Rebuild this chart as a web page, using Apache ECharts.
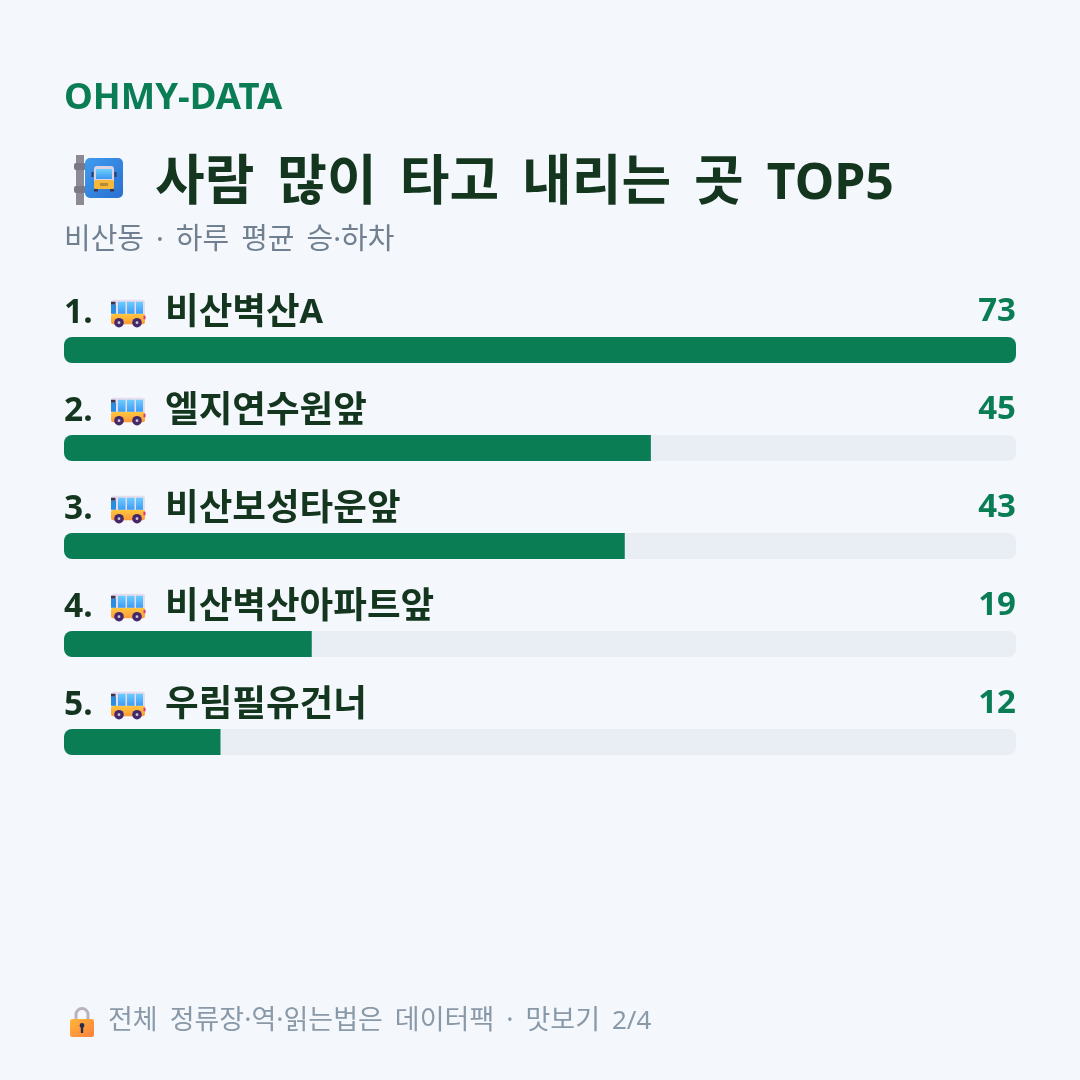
<!DOCTYPE html>
<html lang="ko">
<head>
<meta charset="utf-8">
<style>html,body{margin:0;background:#f4f7fc}#chart{width:1080px;height:1080px}</style>
<script src="https://cdn.jsdelivr.net/npm/echarts@6/dist/echarts.min.js"></script>
</head>
<body>
<div id="chart"></div>
<script>
const stops = ['비산벽산A', '엘지연수원앞', '비산보성타운앞', '비산벽산아파트앞', '우림필유건너'];
const riders = [73, 45, 43, 19, 12];

const brandText = 'OHMY-DATA';
const titleText = '사람 많이 타고 내리는 곳 TOP5';
const subtitleText = '비산동 · 하루 평균 승·하차';
const footerText = '전체 정류장·역·읽는법은 데이터팩 · 맛보기 2/4';

const FONT = '"Noto Sans", "Noto Sans CJK KR", sans-serif';
const INK = '#14361f';
const GREEN = '#0b7d55';

const svgUri = s => 'data:image/svg+xml;utf8,' + encodeURIComponent(
  '<svg xmlns="http://www.w3.org/2000/svg" ' + s + '</svg>');

// Small side-on bus
const busIcon = svgUri(`viewBox="0 0 36 30" width="36" height="30">
  <defs><linearGradient id="b" x1="0" y1="0" x2="0" y2="1"><stop offset="0" stop-color="#ffc83d"/><stop offset="1" stop-color="#ff9a3c"/></linearGradient>
  <linearGradient id="w" x1="0" y1="0" x2="0" y2="1"><stop offset="0" stop-color="#6ccdff"/><stop offset="1" stop-color="#3d9cf5"/></linearGradient></defs>
  <rect x="1" y="1" width="34" height="17" rx="2.5" fill="#e6dcee"/>
  <rect x="1" y="15" width="34" height="10.5" rx="2.5" fill="url(#b)"/>
  <rect x="1" y="3" width="4.5" height="3" fill="#3a3550"/>
  <rect x="1" y="6" width="5" height="9" fill="#2a8ee0"/>
  <rect x="8" y="3" width="7.5" height="12" fill="url(#w)"/>
  <rect x="17" y="3" width="7.5" height="12" fill="url(#w)"/>
  <rect x="26" y="3" width="7" height="12" fill="url(#w)"/>
  <rect x="33.5" y="17" width="2" height="3.5" fill="#e0357a"/>
  <circle cx="9" cy="24" r="4.8" fill="#43286a"/><circle cx="9" cy="24" r="1.4" fill="#cfc4dc"/>
  <circle cx="27" cy="24" r="4.8" fill="#43286a"/><circle cx="27" cy="24" r="1.4" fill="#cfc4dc"/>`);

// Bus-stop sign on a post
const stopIcon = svgUri(`viewBox="0 0 52 52" width="52" height="52">
  <defs><linearGradient id="s" x1="0" y1="0" x2="1" y2="1"><stop offset="0" stop-color="#3f9cee"/><stop offset="1" stop-color="#2a6fd0"/></linearGradient>
  <linearGradient id="g" x1="0" y1="0" x2="0" y2="1"><stop offset="0" stop-color="#6fd0ff"/><stop offset="1" stop-color="#3b96ee"/></linearGradient></defs>
  <rect x="2" y="0" width="8" height="50" fill="#8d8a96"/>
  <rect x="0" y="8" width="12" height="7" rx="2" fill="#7b7885"/>
  <rect x="0" y="31" width="12" height="7" rx="2" fill="#7b7885"/>
  <rect x="11" y="3" width="38" height="40" rx="5" fill="url(#s)"/>
  <rect x="20" y="11" width="20" height="23" rx="3" fill="#d9d2e6"/>
  <rect x="22" y="14" width="16" height="10" fill="url(#g)"/>
  <rect x="20" y="25" width="20" height="9" rx="2" fill="#f5b93a"/>
  <rect x="26" y="28" width="8" height="3" fill="#b58a3a"/>
  <rect x="20" y="34" width="4" height="2.5" fill="#3a3650"/><rect x="36" y="34" width="4" height="2.5" fill="#3a3650"/>
  <rect x="17.5" y="17" width="2" height="5" fill="#3a3650"/><rect x="40.5" y="17" width="2" height="5" fill="#3a3650"/>`);

// Padlock for the footer note
const lockIcon = svgUri(`viewBox="0 0 26 32" width="26" height="32">
  <defs><linearGradient id="l" x1="0" y1="0" x2="1" y2="1"><stop offset="0" stop-color="#ffb638"/><stop offset="1" stop-color="#fa8040"/></linearGradient></defs>
  <path d="M7 14V8.5a6 6 0 0 1 12 0V14" fill="none" stroke="#b9b2bf" stroke-width="3"/>
  <rect x="1" y="13" width="24" height="18" rx="2.5" fill="url(#l)"/>
  <circle cx="13" cy="19.5" r="2.4" fill="#2c2a4a"/><rect x="11.8" y="20" width="2.4" height="7" fill="#2c2a4a"/>`);

const chart = echarts.init(document.getElementById('chart'));

// Headline text with latin runs and word gaps tagged, so each gets its own rich style
const tagged = text => text
  .replace(/[A-Z0-9][A-Z0-9/-]*/g, m => `{lat|${m}}`)
  .replace(/ /g, '{gap| }');

const headline = (text, top, left, size, weight, color, gapWidth, latinSize) => ({
  text: tagged(text), left, top, padding: 0,
  textStyle: {
    fontFamily: FONT, fontSize: size, fontWeight: weight, color,
    rich: {
      lat: { fontFamily: FONT, fontSize: latinSize, fontWeight: weight, color },
      gap: { width: gapWidth, fontSize: size }
    }
  }
});

chart.setOption({
  backgroundColor: '#f4f7fc',
  animation: false,
  title: [
    headline(brandText, 80, 64, 36.5, 700, GREEN, 10, 36.5),
    headline(titleText, 158, 155, 54, 700, INK, 23, 50),
    headline(subtitleText, 226, 64, 29, 400, '#708090', 12, 29),
    headline(footerText, 1008, 108, 27, 400, '#8a99a8', 12, 26)
  ],
  grid: { left: 64, width: 952, top: 301, height: 490 },
  xAxis: { type: 'value', min: 0, max: 73, show: false },
  yAxis: [
    {
      type: 'category', inverse: true, data: stops,
      axisLine: { show: false }, axisTick: { show: false },
      axisLabel: {
        inside: true, margin: 0, align: 'left', verticalAlign: 'bottom', padding: [0, 0, 18, 0],
        formatter: (name, i) => `{rank|${i + 1}.}{bus|}{name|${name.replace(/[A-Z]+/, '}{nameLat|$&')}}`,
        rich: {
          rank: { width: 46, fontFamily: FONT, fontSize: 33.5, fontWeight: 700, color: INK },
          bus: { width: 36, height: 30, backgroundColor: { image: busIcon } },
          name: { padding: [0, 0, 0, 19], fontFamily: FONT, fontSize: 36.6, fontWeight: 700, color: INK },
          nameLat: { fontFamily: FONT, fontSize: 34, fontWeight: 700, color: INK }
        }
      }
    },
    {
      type: 'category', inverse: true, position: 'right', data: riders.map(String),
      axisLine: { show: false }, axisTick: { show: false },
      axisLabel: {
        inside: true, margin: 0, align: 'right', verticalAlign: 'bottom', padding: [0, 0, 22, 0],
        fontFamily: FONT, fontSize: 33, fontWeight: 700, color: GREEN
      }
    }
  ],
  series: [{
    type: 'bar',
    // Only a bar that fills the track keeps rounded corners on its right end
    data: riders.map(v => ({
      value: v,
      itemStyle: { borderRadius: v === Math.max(...riders) ? 8 : [8, 0, 0, 8] }
    })),
    barWidth: 26,
    itemStyle: { color: GREEN },
    showBackground: true,
    backgroundStyle: { color: '#e9eef5', borderRadius: 8 }
  }],
  graphic: [
    { type: 'image', left: 74, top: 155, style: { image: stopIcon, width: 52, height: 52 } },
    { type: 'image', left: 69, top: 1006, style: { image: lockIcon, width: 26, height: 32 } }
  ]
});
</script>
</body>
</html>
